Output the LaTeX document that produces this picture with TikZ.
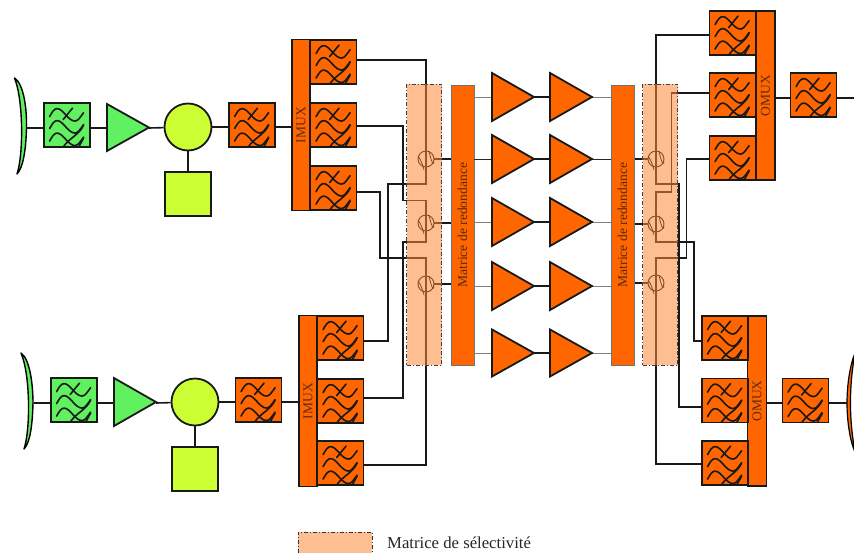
\documentclass[tikz,border=0pt]{standalone}
\usepackage{fontspec}
\setmainfont{Liberation Serif}
\definecolor{orng}{HTML}{FF6600}
\definecolor{grn}{HTML}{60F060}
\definecolor{ylw}{HTML}{CCFF33}
\definecolor{peach}{HTML}{FF8938}
\definecolor{peachsolid}{HTML}{FDBE91}
\definecolor{txtb}{HTML}{5A2A10}
\tikzset{
  x=1pt,y=-1pt,
  outl/.style={draw=black!90,line width=1.8pt,line join=miter},
  filterbox/.style={outl,rectangle,inner sep=0pt,minimum width=46pt,minimum height=44pt},
  wave/.style={line width=1.6pt,draw=black!90,line cap=round},
  wire/.style={line width=1.6pt,draw=black!90,line join=miter},
  thin wire/.style={line width=.9pt,draw=black!85},
  grey wire/.style={line width=1pt,draw=black!50},
  muxbar/.style={outl,rectangle,fill=orng,inner sep=0pt,text=txtb,font=\fontsize{13.5}{14}\selectfont},
  redund/.style={rectangle,draw=black!55,line width=1pt,fill=orng,inner sep=0pt,minimum width=23pt,minimum height=280pt,text=txtb,font=\fontsize{13.6}{14}\selectfont},
  select/.style={rectangle,inner sep=0pt,minimum width=35pt,minimum height=281pt,fill=peach,fill opacity=.55,draw=black!75,line width=.9pt,dash pattern=on 4pt off 2pt on 1pt off 2pt},
  swc/.style={circle,inner sep=0pt,minimum size=16pt,draw=black,line width=.9pt},
  ampl/.style={outl,fill=#1,line join=miter},
  lo/.style={outl,fill=ylw},
}
\newcommand{\onewave}[1]{%
  \draw[wave,shift={(0,#1)}] (6.5,14.5) .. controls (9,10) and (11,6.5) .. (14,6.5) .. controls (20,6.5) and (25,19) .. (32,19) .. controls (35,19) and (38,14) .. (40.5,10.5);
}
\newcommand{\filt}[4]{%
  \node[filterbox,fill=#4] (#1) at (#2,#3) {};
  \begin{scope}[shift={(#1.north west)}]
    \clip (0,0) rectangle (46,44);
    \onewave{0}\onewave{12}\onewave{24.5}
    \draw[wave] (29.5,6) .. controls (26,10) and (23,14) .. (20,17.5);
    \draw[wave] (40.5,23) .. controls (36,33) and (27,35) .. (20,45);
    \draw[wave] (40.5,36) -- (35.5,45);
  \end{scope}
}
\newcommand{\tri}[5]{% name, x, ycentre, half-height, fill
  \node[inner sep=0pt,minimum size=0pt] (#1) at (#2+42,#3) {};
  \draw[ampl=#5] (#2,#3-#4) -- (#2+42,#3) -- (#2,#3+#4) -- cycle;
}
\newcommand{\swmark}[1]{%
  \draw[line width=.8pt] (#1.160) .. controls +(3,3) and +(2,6) .. (#1.250);
  \draw[line width=.8pt] (#1.70) .. controls +(1,4) and +(-1,6) .. (#1.340);
}
\begin{document}
\begin{tikzpicture}
\useasboundingbox (0,0) rectangle (854,552);
\coordinate (endUR) at (854,98);
\node[redund] (mrL) at (462.5,225) {\rotatebox{90}{Matrice de redondance}};
\node[redund] (mrR) at (622.5,225) {\rotatebox{90}{Matrice de redondance}};

\node[inner sep=0pt] (antUL) at (26,128) {};
\node[inner sep=0pt] (antLL) at (33,403) {};
\coordinate (antLR) at (847,403);
\node[circle,lo,minimum size=47pt,inner sep=0pt] (mixU) at (188,127) {};
\node[rectangle,lo,minimum width=46pt,minimum height=44pt,inner sep=0pt] (loU) at (188,194) {};
\node[circle,lo,minimum size=47pt,inner sep=0pt] (mixL) at (195,402) {};
\node[rectangle,lo,minimum width=46pt,minimum height=44pt,inner sep=0pt] (loL) at (195,469) {};
\draw[wire] (mixU) -- (loU);
\draw[wire] (mixL) -- (loL);

\draw[wire] (antUL) -- (107,128) (149,128) -- (mixU);
\draw[wire] (mixU) -- (292,127);
\draw[wire] (antLL) -- (114,403) (156,403) -- (mixL);
\draw[wire] (mixL) -- (299,402);

\filt{fgU}{67}{125}{grn}
\filt{foU}{252}{125}{orng}
\filt{fgL}{74}{400}{grn}
\filt{foL}{258.5}{400}{orng}
\tri{aU}{107}{127.5}{23.5}{grn}
\tri{aL}{114}{402}{24}{grn}

\draw[line width=1.4pt,fill=grn,line join=round] (14.5,78) .. controls (24,84) and (27,110) .. (26.5,128) .. controls (26,150) and (23,168) .. (17,174) .. controls (23.5,155) and (23.5,100) .. cycle;
\draw[line width=1.4pt,fill=grn,line join=round] (21,353) .. controls (30,359) and (33,385) .. (33,403) .. controls (32.5,425) and (30,443) .. (24,449) .. controls (30.5,430) and (30.5,375) .. cycle;
\draw[line width=1.2pt,fill=orng] (855,353) .. controls (850,365) and (847,385) .. (847,403) .. controls (847,421) and (850,441) .. (855,452) .. controls (852,435) and (850.5,420) .. (850.5,403) .. controls (850.5,385) and (852,370) .. cycle;

\node[muxbar,minimum width=18pt,minimum height=171pt] (imU) at (301,125) {\rotatebox{90}{IMUX}};
\filt{f11}{333.5}{62}{orng}
\filt{f12}{333.5}{125}{orng}
\filt{f13}{333.5}{188}{orng}
\node[muxbar,minimum width=18pt,minimum height=171pt] (imL) at (308,401) {\rotatebox{90}{IMUX}};
\filt{f21}{340.5}{338}{orng}
\filt{f22}{340.5}{401}{orng}
\filt{f23}{340.5}{463}{orng}

\node[muxbar,minimum width=19pt,minimum height=169pt] (omU) at (765.5,95.5) {\rotatebox{90}{OMUX}};
\filt{g11}{732.5}{33}{orng}
\filt{g12}{732.5}{95}{orng}
\filt{g13}{732.5}{158}{orng}
\filt{goU}{813.5}{95}{orng}
\draw[wire] ([yshift=-3pt]omU.east |- goU.west) -- ([yshift=-3pt]goU.west);
\draw[wire] ([yshift=-3pt]goU.east) -- (endUR);
\node[muxbar,minimum width=19pt,minimum height=170pt] (omL) at (757,401) {\rotatebox{90}{OMUX}};
\filt{g21}{725}{338}{orng}
\filt{g22}{725}{400.5}{orng}
\filt{g23}{725}{463}{orng}
\filt{goL}{805.5}{400.5}{orng}
\draw[wire] ([yshift=-2.5pt]omL.east |- goL.west) -- ([yshift=-2.5pt]goL.west);
\draw[wire] ([yshift=-2.5pt]goL.east) -- (antLR);

\node[swc] (sL1) at (426,159) {};
\node[swc] (sL2) at (426,223) {};
\node[swc] (sL3) at (426,284) {};
\node[swc] (sR1) at (656,159) {};
\node[swc] (sR2) at (656,224) {};
\node[swc] (sR3) at (656,283) {};
\swmark{sL1}\swmark{sL2}\swmark{sL3}\swmark{sR1}\swmark{sR2}\swmark{sR3}

\draw[wire] ([yshift=2pt]f11.east) -- (426,60) -- (sL1.center) -- (426,184) -- (388,184) -- (388,341) -- ([yshift=-3pt]f21.east);
\draw[wire] ([yshift=-1pt]f12.east) -- (403,126) -- (403,200.5) -- (426,200.5) -- (sL2.center) -- (426,242) -- (403,242) -- (403,398) -- ([yshift=3pt]f22.east);
\draw[wire] ([yshift=-4pt]f13.east) -- (380,192) -- (380,258) -- (426,258) -- (sL3.center) -- (426,465) -- ([yshift=-2pt]f23.east);
\draw[wire] ([yshift=-2pt]g11.west) -- (656,35) -- (sR1.center) -- (656,184) -- (679,184) -- (679,407) -- ([yshift=-6.5pt]g22.west);
\draw[wire] ([yshift=2pt]g12.west) -- (671.5,93) -- (671.5,192) -- (656,192) -- (sR2.center) -- (656,242) -- (694,242) -- (694,341) -- ([yshift=-3pt]g21.west);
\draw[wire] ([yshift=-1pt]g13.west) -- (686.5,159) -- (686.5,258) -- (656,258) -- (sR3.center) -- (656,464) -- ([yshift=-1pt]g23.west);
\draw[wire] (sL1) -- (sL1 -| mrL.west);
\draw[wire] (sL2) -- (sL2 -| mrL.west);
\draw[wire] (sL3) -- (sL3 -| mrL.west);
\draw[wire] (sR1) -- (sR1 -| mrR.east);
\draw[wire] (sR2) -- (sR2 -| mrR.east);
\draw[wire] (sR3) -- (sR3 -| mrR.east);

\node[select] (msL) at (424,224.5) {};
\node[select] (msR) at (660,224.5) {};

\foreach \n/\yy/\hh/\st in {1/97/24/grey wire,2/159/24/thin wire,3/222/24/grey wire,4/286/24/grey wire,5/353/23.5/grey wire}{
  \draw[\st] (474,\yy) -- (492,\yy);
  \draw[\st] (592,\yy) -- (611,\yy);
  \draw[wire] (534,\yy) -- (550,\yy);
  \tri{p\n}{492}{\yy}{\hh}{orng}
  \tri{q\n}{550}{\yy}{\hh}{orng}
}

\node[rectangle,inner sep=0pt,minimum width=74pt,minimum height=24pt,fill=peachsolid,draw=black!80,line width=.9pt,dash pattern=on 4pt off 2pt on 1pt off 2pt] (lg) at (335,544) {};
\node[anchor=west,inner sep=0pt,font=\fontsize{16.7}{18}\selectfont,text=black!85] (lgt) at (387,543) {Matrice de sélectivité};
\end{tikzpicture}
\end{document}
